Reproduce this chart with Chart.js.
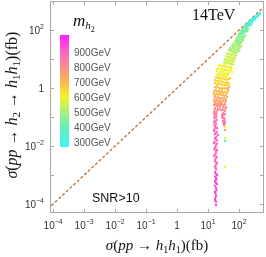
<!DOCTYPE html>
<html>
<head>
<meta charset="utf-8">
<script src="https://cdn.jsdelivr.net/npm/chart.js@4.4.1/dist/chart.umd.min.js"></script>
<style>
  html, body { margin: 0; padding: 0; background: #fff; }
  canvas { display: block; }
</style>
</head>
<body>
<canvas id="chart" width="266" height="257"></canvas>
<script>
/* sigma(pp -> h2 -> h1h1) vs sigma(pp -> h1h1), 14 TeV, colored by m_h2 */

// points: [sigma(pp->h1h1) fb, sigma(pp->h2->h1h1) fb], grouped by m_h2 (GeV)
var massBins = [300, 340, 420, 470, 510, 550, 600, 650, 700, 750, 800, 850, 900, 950];
var pts300 = [[476,385],[442,356],[410,329],[381,329],[353,304],[328,281],[381,281],[305,259],[283,239],[262,239],[328,239],[244,204],[35.3,0.0149],
  [460,370],[420,345],[395,315],[365,300],[340,290],[300,270],[315,250],[290,228],[270,215],[255,222]];
var pts350 = [[226,204],[210,189],[262,189],[195,174],[226,161],[181,161],[168,149],[210,149],[244,161],
  [236,196],[218,180],[240,178],[204,168],[188,155],[200,142],[232,150]];
var pts400 = [[156,137],[181,127],[145,117],[168,117],[135,108],[195,108],[125,100],[156,92],[116,85],[181,92],[108,79],[135,79],
  [165,130],[150,125],[172,105],[140,100],[160,98],[130,88],[122,92],[112,82],[150,84],[120,75]];
var pts450 = [[100,73],[125,67],[156,67],[93,62],[116,57],[145,57],[86,53],[108,49],[135,49],[80,45],[100,42],[125,42],[74,39],[93,36],[116,36],
  [110,70],[140,62],[105,58],[130,54],[95,51],[120,46],[90,43],[110,39],[84,40],[132,45],[78,38],[102,34]];
var pts500 = [[64,33],[80,33],[100,30],[59.4,28],[74,28],[93,26],[116,28],[51.2,24],[64,24],[80,22],[100,24],[47.6,20.4],[59.4,18.9],[74,17.4],[93,18.9],
  [70,31],[88,31],[108,27],[66,26],[84,25],[56,22],[70,21],[88,21],[53,19.5],[66,18],[82,16.5],[104,20]];
var pts550 = [[41,16.1],[51.2,14.9],[64,14.9],[80,13.7],[38.1,12.7],[47.6,11.7],[59.4,11.7],[74,10.8],[35.3,10],[44.2,9.2],[55.2,9.2],[69,8.5],[32.8,7.9],[41,7.3],[51.2,7.3],[64,6.7],
  [45,15.5],[57,14.2],[72,13.2],[43,12.2],[53,11.2],[66,10.4],[40,9.6],[49,9.5],[61,8.8],[36,8.4],[46,8.0],[57,7.6],[35,7.1],[46,6.9],[57,6.5]];
var pts600 = [[22.6,6.2],[28.3,5.7],[35.3,5.7],[44.2,5.3],[55.2,5.3],[21,4.9],[26.3,4.5],[32.8,4.5],[41,4.2],[51.2,4.2],[19.5,3.9],[24.4,3.6],[30.5,3.6],[38.1,3.3],[47.6,3.3],[59.4,3.6],[21,2.8],[26.3,2.8],[32.8,2.6],[41,2.6],[35.3,0.045],[35.3,0.019],[35.3,0.0019],
  [24,6.0],[31,5.9],[39,5.6],[49,5.1],[20,4.6],[29,4.3],[36,4.1],[46,3.9],[55,4.5],[23,3.3],[27,3.1],[34,3.1],[43,2.95],[20,3.1],[30,2.7],[37,2.5],[24,2.6]];
var pts650 = [[18.1,2.4],[22.6,2.2],[28.3,2.2],[35.3,2.04],[44.2,2.04],[51.2,2.2],[16.8,1.9],[21,1.74],[26.3,1.74],[32.8,1.6],[41,1.6],[19.5,1.37],[24.4,1.37],[30.5,1.27],[38.1,1.27],[47.6,1.37],
  [20,2.3],[25,2.1],[32,2.1],[40,2.0],[48,2.1],[18,1.8],[23,1.65],[29,1.65],[37,1.55],[45,1.5],[17,1.5],[22,1.45],[27,1.35],[34,1.3],[43,1.3],[20,1.2]];
var pts700 = [[16.8,1.08],[21,1.08],[26.3,1.0],[32.8,1.0],[41,1.0],[47.6,1.08],[18.1,0.85],[22.6,0.79],[28.3,0.79],[35.3,0.73],[44.2,0.79],[15.6,0.67],[19.5,0.62],[24.4,0.62],[30.5,0.57],[38.1,0.57],
  [18,1.05],[24,0.95],[29,0.95],[37,0.95],[44,0.92],[16,0.8],[20,0.75],[25,0.72],[31,0.7],[40,0.68],[17,0.6],[22,0.58],[27,0.6],[34,0.55],[16,0.55]];
var pts750 = [[16.8,0.49],[21,0.49],[26.3,0.45],[32.8,0.45],[41,0.49],[15.6,0.39],[19.5,0.39],[24.4,0.36],[30.5,0.36],[38.1,0.36],[18.1,0.30],[22.6,0.30],[35.3,0.036],
  [18,0.47],[23,0.44],[29,0.42],[36,0.42],[17,0.36],[21,0.35],[27,0.33],[34,0.33],[16,0.32],[20,0.28],[25,0.3]];
var pts800 = [[28.3,0.28],[35.3,0.28],[15.6,0.26],[19.5,0.24],[24.4,0.24],[30.5,0.22],[38.1,0.22],[16.8,0.19],[21,0.19],[26.3,0.174],[32.8,0.174],[18.1,0.15],
  [17,0.27],[22,0.25],[26,0.27],[32,0.25],[36,0.2],[17,0.21],[20,0.17],[24,0.2],[29,0.18],[35,0.16],[16,0.16],[19,0.13]];
var pts850 = [[15.6,0.137],[18.1,0.117],[16.8,0.092],[19.5,0.079],[15.6,0.067],[18.1,0.057],[30.5,0.137],[35.3,0.127],[28.3,0.108],[32.8,0.092],[30.5,0.073],[35.3,0.067],[32.8,0.053],
  [17,0.125],[15.8,0.105],[18.5,0.1],[16.5,0.075],[17.5,0.068],[16,0.055],[32,0.12],[29,0.095],[34,0.08],[31,0.062],[29,0.12],[34,0.058]];
var pts900 = [[16.8,0.049],[19.5,0.042],[15.6,0.033],[18.1,0.028],[21,0.024],[16.8,0.019],[19.5,0.016],[15.6,0.0127],[18.1,0.0108],[16.8,0.0085],[19.5,0.0073],[18.1,0.0057],[15.6,0.0045],[18.1,0.0039],[16.8,0.0030],[19.5,0.0026],[16.8,0.0020],[18.1,0.0016],
  [17.5,0.045],[16.2,0.038],[19,0.031],[16.5,0.026],[18.5,0.021],[17.2,0.0175],[16.2,0.014],[19,0.012],[17.5,0.0095],[16,0.0078],[18,0.0065],[16.5,0.005],[19,0.0042],[17,0.0034],[18,0.0023],[17.5,0.0018]];
var pts950 = [[16.8,0.00127],[19.5,0.001],[18.1,0.00079],[16.8,0.00062],[19.5,0.00049],[18.1,0.00036],[16.8,0.00026],[18.1,0.00019],[16.8,0.000137],[18.1,0.000093],
  [18,0.0011],[17,0.00088],[18.5,0.0007],[17.5,0.00055],[16.5,0.00043],[18.5,0.0003],[17.5,0.00023],[17,0.00016],[18,0.00012]];
var binPoints = [pts300, pts350, pts400, pts450, pts500, pts550, pts600, pts650, pts700, pts750, pts800, pts850, pts900, pts950];

// axes
var xRange = [7.9e-5, 640];
var yRange = [4.9e-5, 1000];
var xDecades = [1e-4, 1e-3, 1e-2, 1e-1, 1, 10, 100];
var yDecades = [1e-4, 1e-3, 1e-2, 1e-1, 1, 10, 100];
var yLabelled = [1e-4, 1e-2, 1, 100];
var diagonal = [1e-5, 1e4];

// color bar
var cbTicks = [300, 400, 500, 600, 700, 800, 900];
var cbRange = [267, 1013];
var cmapStops = [
  [267, '#40f4f4'], [300, '#48f2ec'], [400, '#66f0b6'], [500, '#a6f07c'],
  [600, '#f2f22c'], [700, '#fdb84c'], [800, '#ff8c8c'], [900, '#ff64c4'], [1013, '#ff1cff']
];

var SANS = "'Liberation Sans', Arial, sans-serif";
var SERIF = "'Liberation Serif', 'Times New Roman', serif";

function hexRgb(h) {
  return [parseInt(h.substr(1, 2), 16), parseInt(h.substr(3, 2), 16), parseInt(h.substr(5, 2), 16)];
}

function massColor(m) {
  for (var i = 0; i < cmapStops.length - 1; i++) {
    var a = cmapStops[i], b = cmapStops[i + 1];
    if (m <= b[0]) {
      var t = Math.max(0, (m - a[0]) / (b[0] - a[0]));
      var ca = hexRgb(a[1]), cb = hexRgb(b[1]);
      return 'rgb(' + [0, 1, 2].map(function (k) { return Math.round(ca[k] + (cb[k] - ca[k]) * t); }).join(',') + ')';
    }
  }
  return cmapStops[cmapStops.length - 1][1];
}

// draw a row of [text, font, dy] pieces
function drawRich(ctx, parts, x, y, align) {
  var w = 0;
  parts.forEach(function (p) { ctx.font = p[1]; w += ctx.measureText(p[0]).width; });
  var cx = align === 'center' ? x - w / 2 : (align === 'right' ? x - w : x);
  ctx.textAlign = 'left';
  parts.forEach(function (p) {
    ctx.font = p[1];
    ctx.fillText(p[0], cx, y + (p[2] || 0));
    cx += ctx.measureText(p[0]).width;
  });
}

function powerLabel(v) {
  var e = Math.round(Math.log10(v));
  if (e === 0) return [['1', '10px ' + SANS]];
  var s = String(e).replace('-', '\u2212');
  return [['10', '10px ' + SANS], [s, '7px ' + SANS, -5]];
}

var frameDecor = {
  id: 'frameDecor',
  afterDatasetsDraw: function (chart) {
    var ctx = chart.ctx, a = chart.chartArea;
    var xs = chart.scales.x, ys = chart.scales.y;
    ctx.save();

    // frame + inward ticks on all four sides
    ctx.strokeStyle = '#a8a8a8';
    ctx.lineWidth = 1;
    ctx.strokeRect(Math.round(a.left) + 0.5, Math.round(a.top) + 0.5,
      Math.round(a.right - a.left) - 1, Math.round(a.bottom - a.top) - 1);
    ctx.beginPath();
    xDecades.forEach(function (v) {
      var px = Math.round(xs.getPixelForValue(v)) + 0.5;
      ctx.moveTo(px, a.bottom); ctx.lineTo(px, a.bottom - 4);
      ctx.moveTo(px, a.top); ctx.lineTo(px, a.top + 4);
    });
    yDecades.forEach(function (v) {
      var py = Math.round(ys.getPixelForValue(v)) + 0.5;
      ctx.moveTo(a.left, py); ctx.lineTo(a.left + 4, py);
      ctx.moveTo(a.right, py); ctx.lineTo(a.right - 4, py);
    });
    ctx.stroke();

    // tick labels
    ctx.fillStyle = '#333';
    ctx.textBaseline = 'alphabetic';
    xDecades.forEach(function (v) {
      drawRich(ctx, powerLabel(v), xs.getPixelForValue(v), a.bottom + 16, 'center');
    });
    yLabelled.forEach(function (v) {
      drawRich(ctx, powerLabel(v), a.left - 6, ys.getPixelForValue(v) + 4, 'right');
    });

    // axis titles
    ctx.fillStyle = '#111';
    var it = 'italic 15px ' + SERIF, rm = '15px ' + SERIF, sb = '10px ' + SERIF;
    drawRich(ctx, [['\u03c3', it], ['(', rm], ['pp', it], [' \u2192 ', rm], ['h', it], ['1', sb, 3],
      ['h', it], ['1', sb, 3], [')(fb)', rm]], (a.left + a.right) / 2, 250, 'center');
    var it2 = 'italic 16px ' + SERIF, rm2 = '16px ' + SERIF, sb2 = '11px ' + SERIF;
    ctx.save();
    ctx.translate(17, (a.top + a.bottom) / 2 - 2);
    ctx.rotate(-Math.PI / 2);
    drawRich(ctx, [['\u03c3', it2], ['(', rm2], ['pp', it2], [' \u2192 ', rm2], ['h', it2], ['2', sb2, 3],
      [' \u2192 ', rm2], ['h', it2], ['1', sb2, 3], ['h', it2], ['1', sb2, 3], [')(fb)', rm2]], 0, 0, 'center');
    ctx.restore();

    // annotations
    ctx.font = '16px ' + SERIF;
    ctx.fillText('14TeV', 192, 20);
    ctx.font = '12.5px ' + SANS;
    ctx.fillText('SNR>10', 92, 202);

    // color bar legend
    var bx = 60, bw = 9, bTop = 35, bBot = 147;
    var g = ctx.createLinearGradient(0, bBot, 0, bTop);
    cmapStops.forEach(function (s) {
      g.addColorStop((s[0] - cbRange[0]) / (cbRange[1] - cbRange[0]), s[1]);
    });
    ctx.fillStyle = g;
    ctx.fillRect(bx, bTop, bw, bBot - bTop);
    ctx.fillStyle = '#555';
    ctx.font = '10px ' + SANS;
    cbTicks.forEach(function (m) {
      var py = bBot - (m - cbRange[0]) / (cbRange[1] - cbRange[0]) * (bBot - bTop);
      ctx.fillText(m + 'GeV', 74, py + 4);
    });
    ctx.fillStyle = '#111';
    drawRich(ctx, [['m', 'italic 17px ' + SERIF], ['h', 'italic 11px ' + SERIF, 3], ['2', '8px ' + SERIF, 6]], 73, 26, 'left');

    ctx.restore();
  }
};

var datasets = [];
massBins.forEach(function (m, i) {
  datasets.push({
    type: 'scatter',
    label: m + 'GeV',
    data: binPoints[i].map(function (p) { return { x: p[0], y: p[1] }; }),
    backgroundColor: massColor(m),
    borderWidth: 0,
    pointRadius: 1.2,
    pointHoverRadius: 1.2
  });
});
datasets.push({
  type: 'line',
  label: 'diagonal',
  data: diagonal.map(function (v) { return { x: v, y: v }; }),
  borderColor: '#b97c45',
  borderWidth: 1.4,
  borderDash: [3, 2],
  pointRadius: 0,
  fill: false
});

new Chart(document.getElementById('chart'), {
  type: 'scatter',
  data: { datasets: datasets },
  options: {
    responsive: false,
    animation: false,
    layout: { padding: { top: 1, right: 2, left: 0, bottom: 0 } },
    plugins: { legend: { display: false }, tooltip: { enabled: false } },
    scales: {
      x: {
        type: 'logarithmic', min: xRange[0], max: xRange[1],
        afterFit: function (s) { s.height = 44; },
        ticks: { display: false },
        grid: { display: false },
        border: { display: false }
      },
      y: {
        type: 'logarithmic', min: yRange[0], max: yRange[1],
        afterFit: function (s) { s.width = 50; },
        ticks: { display: false },
        grid: { display: false },
        border: { display: false }
      }
    }
  },
  plugins: [frameDecor]
});
</script>
</body>
</html>
